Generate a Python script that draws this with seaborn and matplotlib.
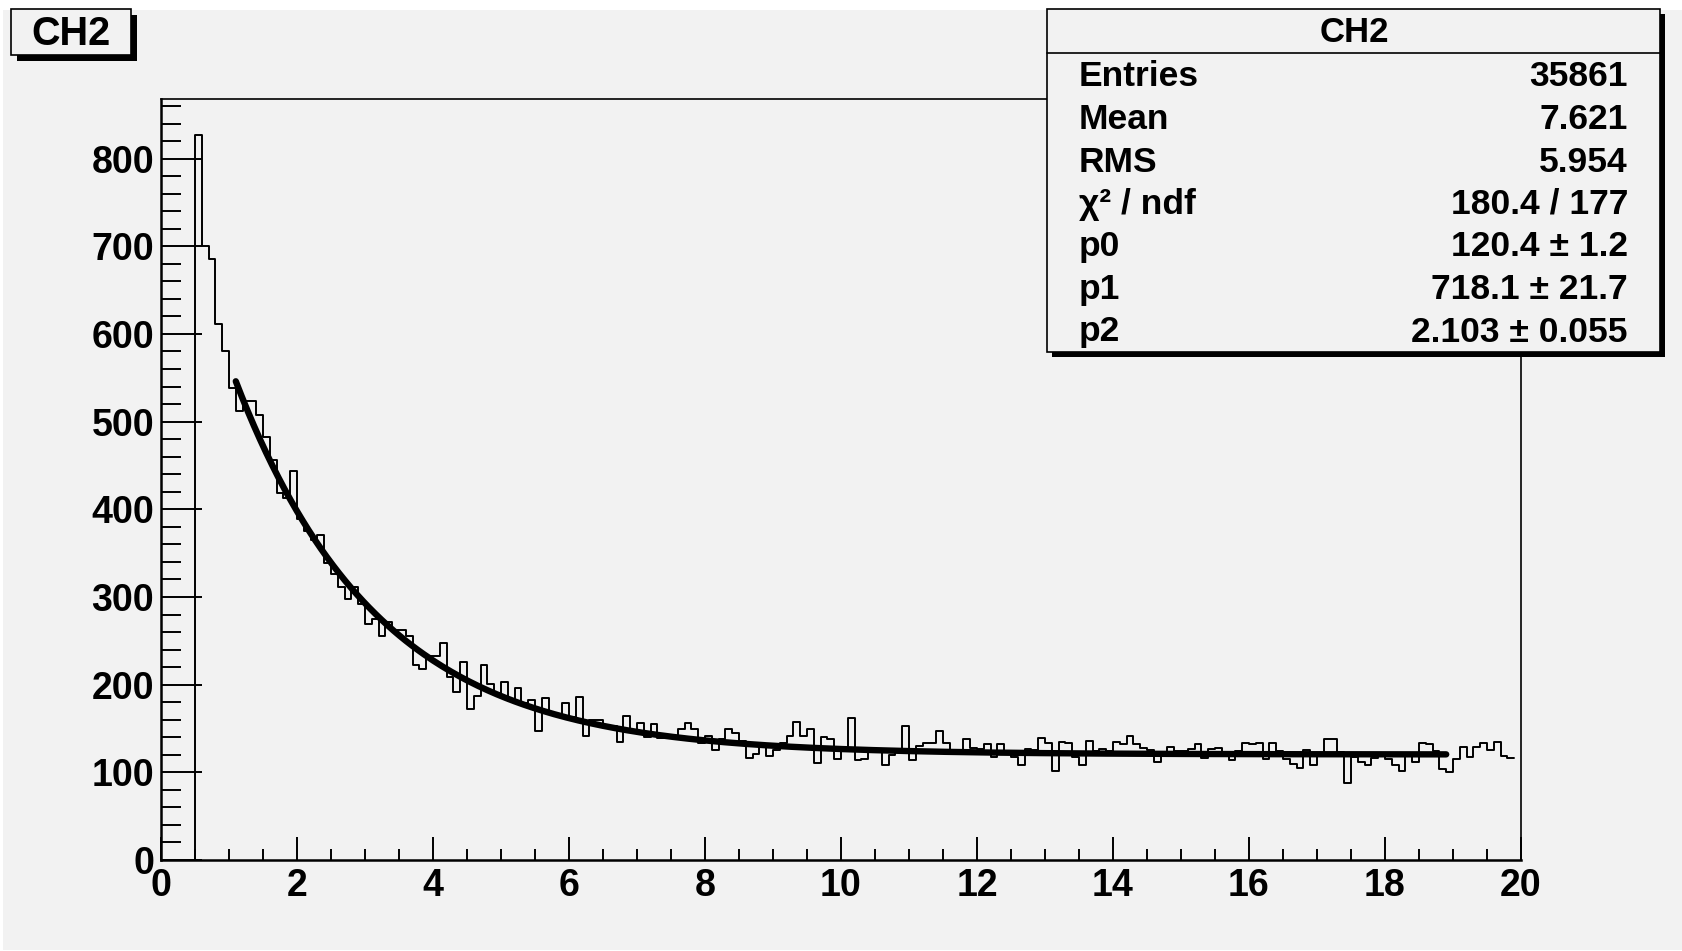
import numpy as np
import pandas as pd
import matplotlib
matplotlib.use("Agg")
import matplotlib.pyplot as plt
import seaborn as sns
from matplotlib.patches import Rectangle
from matplotlib.ticker import MultipleLocator

# histogram contents, bins of 0.1 starting at 0.5
counts = [
    827, 700, 685, 611, 580, 538, 512, 524, 524, 507, 482, 456, 419, 413, 444, 389, 375,
    365, 371, 339, 326, 311, 298, 311, 292, 269, 275, 256, 271, 262, 262, 255, 222, 218,
    233, 233, 247, 209, 192, 226, 172, 187, 222, 201, 191, 203, 181,
    196, 179, 183, 147, 185, 168, 164, 179, 163, 186, 142, 160, 160, 153, 153, 135, 164,
    147, 156, 140, 155, 139, 141, 141, 149, 156, 149, 134, 142, 126, 138, 149, 145, 136,
    116, 121, 132, 119, 126, 134, 142, 157, 142, 149, 111, 140, 138, 115, 128, 162, 114,
    115, 123, 126, 108, 120, 124, 153, 114, 130, 134, 133, 147, 134, 123, 124, 138, 128,
    127, 132,
    118, 132, 124, 118, 108, 127, 126, 139, 134, 101, 135, 134, 118, 108, 136, 124, 127,
    124, 135, 132, 141, 132, 128, 126, 112, 122, 129, 124, 124, 127, 132, 116, 127, 128,
    122, 114, 124, 134,
    132, 134, 115, 133, 124, 115, 109, 105, 126, 108, 121, 138, 138, 123, 88, 117, 112,
    108, 116, 121, 115, 108, 102, 119, 112, 133, 132, 124, 104, 100, 115, 129, 117, 129,
    134, 126, 135, 119, 116,
]
bin_low = 0.5
bin_width = 0.1

# fit: p0 + p1*exp(-x/p2)
fit_p0, fit_p1, fit_p2 = 120.4, 718.1, 2.103
fit_lo, fit_hi = 1.1, 18.9

stat_names = ["Entries", "Mean", "RMS", "χ² / ndf", "p0", "p1", "p2"]
stat_values = ["35861", "7.621", "5.954", "180.4 / 177",
               "120.4 ± 1.2", "718.1 ± 21.7", "2.103 ± 0.055"]
hist_name = "CH2"

edges = bin_low + bin_width * np.arange(len(counts) + 1)
centers = edges[:-1] + bin_width / 2
df = pd.DataFrame({"x": centers, "n": counts})

fit_x = np.linspace(fit_lo, fit_hi, 400)
fit_df = pd.DataFrame({"x": fit_x, "y": fit_p0 + fit_p1 * np.exp(-fit_x / fit_p2)})

sns.set_style("ticks")
plt.rcParams["font.family"] = ["Liberation Sans", "DejaVu Sans"]
plt.rcParams["font.weight"] = "bold"
plt.rcParams["text.color"] = "black"
plt.rcParams["xtick.color"] = "black"
plt.rcParams["ytick.color"] = "black"
plt.rcParams["axes.edgecolor"] = "black"

W, H = 1683, 951
bg = "#f2f2f2"
fig = plt.figure(figsize=(W / 100, H / 100), dpi=100, facecolor=bg)
# thin white margins of the original canvas
for r in [(0, 1 - 10 / H, 1, 10 / H), (0, 0, 3 / W, 1), (0, 0, 1, 1 / H)]:
    fig.patches.append(Rectangle(r[:2], r[2], r[3], transform=fig.transFigure,
                                 facecolor="white", edgecolor="none", zorder=-5))

ax = fig.add_axes([161 / W, 1 - 860 / H, (1521 - 161) / W, (860 - 99) / H])
ax.set_facecolor(bg)

sns.histplot(data=df, x="x", weights="n", bins=edges.tolist(), element="step",
             fill=False, color="black", linewidth=1.4, ax=ax)
ax.vlines(edges[0], 0, counts[0], color="black", linewidth=1.4)
sns.lineplot(data=fit_df, x="x", y="y", color="black", linewidth=4.6, ax=ax)

ax.set_xlim(0, 20)
ax.set_ylim(0, 868)
ax.set_xlabel("")
ax.set_ylabel("")
ax.xaxis.set_major_locator(MultipleLocator(2))
ax.xaxis.set_minor_locator(MultipleLocator(0.5))
ax.yaxis.set_major_locator(MultipleLocator(100))
ax.yaxis.set_minor_locator(MultipleLocator(20))
ax.tick_params(axis="y", which="major", direction="in", length=29.5, width=1.4,
               labelsize=27, pad=5)
ax.tick_params(axis="y", which="minor", direction="in", length=14.5, width=1.4)
ax.tick_params(axis="x", which="major", direction="in", length=16.5, width=1.4,
               labelsize=27, pad=5.5)
ax.tick_params(axis="x", which="minor", direction="in", length=8, width=1.4)
for lab in ax.get_xticklabels() + ax.get_yticklabels():
    lab.set_fontweight("bold")
for side in ["left", "bottom"]:
    ax.spines[side].set_linewidth(1.8)
for side in ["top", "right"]:
    ax.spines[side].set_visible(True)
    ax.spines[side].set_linewidth(1.2)


def box(x0, y0, x1, y1, shadow):
    # pixel box with ROOT style drop shadow
    fig.patches.append(Rectangle((x0 / W + shadow / W, 1 - (y1 + shadow) / H),
                                 (x1 - x0) / W, (y1 - y0) / H,
                                 transform=fig.transFigure, facecolor="black",
                                 edgecolor="none", zorder=5))
    fig.patches.append(Rectangle((x0 / W, 1 - y1 / H), (x1 - x0) / W, (y1 - y0) / H,
                                 transform=fig.transFigure, facecolor=bg,
                                 edgecolor="black", linewidth=1.2, zorder=6))


# title box
box(11, 9, 131, 55, 6)
fig.text(71 / W, 1 - 34 / H, hist_name, fontsize=28.5, fontweight="bold",
         ha="center", va="center", zorder=7)

# stats box
box(1047, 9, 1660, 352, 5)
fig.lines.append(plt.Line2D([1047 / W, 1660 / W], [1 - 53 / H, 1 - 53 / H],
                            transform=fig.transFigure, color="black",
                            linewidth=1.2, zorder=7))
fig.text(1354 / W, 1 - 32 / H, hist_name, fontsize=25, fontweight="bold",
         ha="center", va="center", zorder=7)
for i, (name, val) in enumerate(zip(stat_names, stat_values)):
    yy = 1 - (77 + 42.5 * i) / H
    fig.text(1079 / W, yy, name, fontsize=25.5, fontweight="bold",
             ha="left", va="center", zorder=7)
    fig.text(1628 / W, yy, val, fontsize=25.5, fontweight="bold",
             ha="right", va="center", zorder=7)

fig.savefig("out.png", dpi=100, facecolor=bg)
